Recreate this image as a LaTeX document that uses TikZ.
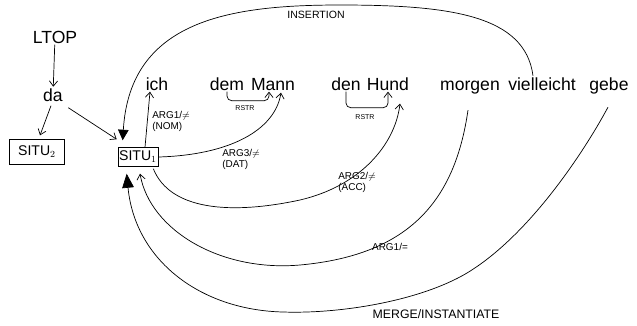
\documentclass[tikz,border=0pt]{standalone}
\usepackage{fontspec}
\setmainfont{Liberation Sans}
\usetikzlibrary{arrows.meta, positioning, calc}

\begin{document}
\begin{tikzpicture}[
        x=0.03cm, y=-0.03cm,
        line width=0.6pt,
        word/.style={anchor=base, inner sep=1pt, font=\fontsize{15}{17}\selectfont},
        lbl/.style={inner sep=0pt, align=left, font=\fontsize{8.5}{9.5}\selectfont},
        small/.style={inner sep=0pt, font=\fontsize{6}{7}\selectfont},
        box/.style={draw, inner sep=1pt, font=\fontsize{12}{14}\selectfont},
        arr/.style={-{Straight Barb[length=4.5pt,width=7pt]}},
        fat/.style={-{Triangle[length=9pt,width=9pt]}}
    ]
    \useasboundingbox (0,0) rectangle (637,325);

    % linke Seite
    \node[word] (ltop) at (55,43) {LTOP};
    \node[word] (da) at (53,101) {da};
    \node[box, minimum width=47pt, minimum height=21pt] (situb) at (37,152) {SITU$_2$};
    \node[box, minimum width=34pt, minimum height=16pt] (situa) at (138,157) {SITU$_1$};

    % Woerter
    \node[word] (ich) at (157,90) {ich};
    \node[word] (dem) at (227,90) {dem};
    \node[word] (mann) at (273,90) {Mann};
    \node[word] (den) at (346,90) {den};
    \node[word] (hund) at (388,90) {Hund};
    \node[word] (morgen) at (470,90) {morgen};
    \node[word] (viel) at (542,90) {vielleicht};
    \node[word] (gebe) at (609,90) {gebe};

    % Pfeile links
    \draw[arr] (ltop) -- (da);
    \draw[arr] ($(da.south)+(-2,3)$) -- ($(situb.north)+(3,-4)$);
    \draw[arr] ($(da.south east)+(4,5)$) -- ($(situa.north west)+(-1,-8)$);

    % INSERTION
    \draw[fat] ($(viel.north)+(-9,0)$) .. controls (525,15) and (450,5) .. (340,5)
        .. controls (230,5) and (130,20) .. ($(situa.north west)+(5,-7)$);
    \node[lbl, font=\fontsize{9}{10}\selectfont] (ins) at (316,15) {INSERTION};

    % ARG1 (NOM)
    \draw[arr] ($(situa.north)+(7,0)$) -- ($(ich.south)+(-7,0)$);
    \node[lbl, anchor=north west] (nom) at (152,111) {ARG1/$\neq$\\(NOM)};

    % RSTR dem Mann
    \draw[arr, rounded corners=4pt] (dem.south) |- ($(mann.south)+(-4,9)$) -- ($(mann.south)+(-4,0)$);
    \node[small] (rstra) at (245,108) {RSTR};

    % ARG3 (DAT)
    \draw[arr] (situa.east) .. controls (230,155) and (275,130) .. ($(mann.south)+(8,1)$);
    \node[lbl, anchor=north west] (dat) at (222,149) {ARG3/$\neq$\\(DAT)};

    % RSTR den Hund
    \draw[arr, rounded corners=4pt] (den.south) |- ($(hund.south)+(0,16)$) -- (hund.south);
    \node[small] (rstrb) at (365,117) {RSTR};

    % ARG2 (ACC)
    \draw[arr] ($(situa.south east)+(-5,2)$) .. controls (170,210) and (230,215) .. (300,200)
        .. controls (360,186) and (395,145) .. ($(hund.south)+(12,12)$);
    \node[lbl, anchor=north west] (acc) at (338,172) {ARG2/$\neq$\\(ACC)};

    % ARG1 morgen
    \draw[arr] ($(morgen.south)+(-2,15)$) .. controls (455,200) and (410,255) .. (300,265)
        .. controls (220,272) and (150,230) .. ($(situa.south)+(2,7)$);
    \node[lbl] (eq) at (390,247) {ARG1/=};

    % MERGE/INSTANTIATE
    \draw[-{Triangle[length=12pt,width=10pt]}] ($(gebe.south)+(-1,12)$) .. controls (585,150) and (530,235) .. (467,273)
        .. controls (420,301) and (340,314) .. (283,312)
        .. controls (200,310) and (135,260) .. ($(situa.south west)+(9,7)$);
    \node[lbl, font=\fontsize{10.5}{12}\selectfont] (merge) at (436,314) {MERGE/INSTANTIATE};
\end{tikzpicture}
\end{document}
